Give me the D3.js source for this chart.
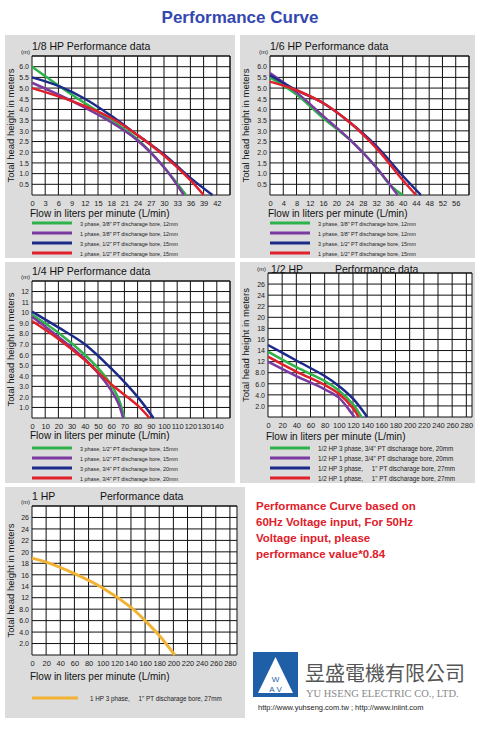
<!DOCTYPE html>
<html><head><meta charset="utf-8">
<script src="https://cdn.jsdelivr.net/npm/d3@7"></script>
<style>body{margin:0;background:#fff} text{white-space:pre}</style></head>
<body><svg id="c" width="480" height="737"></svg>
<script>
// ---- data ----
const colors = {green:"#2db34a", purple:"#7a3aa0", blue:"#1c2a8a", red:"#e0202a", orange:"#f2b233"};
const p1Legend = ["3 phase, 3/8\" PT discharage bore, 12mm","1 phase, 3/8\" PT discharage bore, 12mm","3 phase, 1/2\" PT discharage bore, 15mm","1 phase, 1/2\" PT discharage bore, 15mm"];
const p1Green  = [[0,6.0],[9,4.7],[18,3.5],[24,2.6],[30,1.3],[35,0]];
const p1Purple = [[0,5.25],[9,4.4],[18,3.4],[24,2.55],[30,1.3],[34.5,0]];
const p1Blue   = [[0,5.5],[6,5.1],[12,4.5],[18,3.7],[24,2.8],[30,1.9],[36,0.8],[41,0]];
const p1Red    = [[0,5.0],[9,4.4],[18,3.6],[24,2.8],[30,1.85],[36,0.7],[39,0]];
const p2Green  = [[0,5.5],[8,4.7],[16,3.6],[24,2.6],[32,1.3],[36,0.5],[40,0]];
const p2Purple = [[0,5.7],[8,4.8],[16,3.7],[24,2.6],[32,1.3],[38.5,0]];
const p2Blue   = [[0,5.6],[8,4.9],[16,4.3],[24,3.4],[32,2.3],[40,0.9],[45.5,0]];
const p2Red    = [[0,5.3],[8,4.9],[16,4.3],[24,3.4],[32,2.2],[40,0.7],[44,0]];
const p3Legend = ["3 phase, 1/2\" PT discharage bore, 15mm","1 phase, 1/2\" PT discharage bore, 15mm","3 phase, 3/4\" PT discharage bore, 20mm","1 phase, 3/4\" PT discharage bore, 20mm"];
const p3Green  = [[0,9.8],[20,8.1],[40,6.0],[55,4.0],[65,2.0],[70,0]];
const p3Purple = [[0,9.6],[20,7.7],[40,5.6],[55,3.5],[65,1.5],[69,0]];
const p3Blue   = [[0,10.1],[20,8.6],[40,7.0],[60,4.7],[80,2.0],[92,0]];
const p3Red    = [[0,9.2],[20,7.5],[40,5.5],[60,3.2],[80,1.2],[89,0]];
const p4Legend = ["1/2 HP 3 phase, 3/4\" PT discharage bore, 20mm","1/2 HP 1 phase, 3/4\" PT discharage bore, 20mm","1/2 HP 3 phase,     1\" PT discharage bore, 27mm","1/2 HP 1 phase,     1\" PT discharage bore, 27mm"];
const p4Green  = [[0,11.8],[40,9.0],[80,6.5],[100,4.8],[120,2.3],[132,0]];
const p4Purple = [[0,10.0],[40,7.4],[80,5.0],[100,3.5],[115,1.2],[122,0]];
const p4Blue   = [[0,13.0],[40,10.2],[80,7.4],[100,5.6],[120,3.3],[140,0]];
const p4Red    = [[0,10.9],[40,8.2],[80,5.8],[100,4.2],[120,1.6],[128,0]];
const p5Legend = ["1 HP 3 phase,     1\" PT discharage bore, 27mm"];
const p5Orange = [[0,16.9],[20,16.2],[60,14.2],[100,11.7],[140,8.3],[160,6.0],[180,3.4],[202,0]];
const ticks1 = [3,6,9,12,15,18,21,24,27,30,33,36,39,42];
const ticks2 = [4,8,12,16,20,24,28,32,36,40,44,48,52,56];
const ticks3 = [10,20,30,40,50,60,70,80,90,100,110,120,130,140];
const ticks4 = [20,40,60,80,100,120,140,160,180,200,220,240,260,280];
const yTicks12 = [0.5,1,1.5,2,2.5,3,3.5,4,4.5,5,5.5,6];
const yLabels12 = ["0.5","1.0","1.5","2.0","2.5","3.0","3.5","4.0","4.5","5.0","5.5","6.0"];
const yTicks3 = [1,2,3,4,5,6,7,8,9,10,11,12];
const yLabels3 = ["1.0","2.0","3.0","4.0","5.0","6.0","7.0","8.0","9.0","10","11","12"];
const yTicks45 = [2,4,6,8,10,12,14,16,18,20,22,24];
const yLabels45 = ["2.0","4.0","6.0","8.0","12","14","16","18","20","22","24","26"];

const svg = d3.select("#c");
const F = "Liberation Sans, Arial, sans-serif";
svg.append("text").attr("x",240).attr("y",23).attr("text-anchor","middle").attr("font-family",F)
  .attr("font-weight","bold").attr("font-size",17).attr("fill","#3347b0").text("Performance Curve");

function panel(o){
  const g = svg.append("g");
  g.append("rect").attr("x",o.box[0]).attr("y",o.box[1]).attr("width",o.box[2]).attr("height",o.box[3]).attr("fill","#dcdcdc");
  const x = d3.scaleLinear().domain([0,o.xmax]).range([o.x0,o.x1]);
  const y = d3.scaleLinear().domain([0,o.ymax]).range([o.y0,o.y1]);
  g.append("rect").attr("x",o.x0).attr("y",o.y1).attr("width",o.x1-o.x0).attr("height",o.y0-o.y1).attr("fill","#fff");
  const grid = g.append("g").attr("stroke","#111").attr("stroke-width",1);
  d3.range(0,o.xmax+1e-6,o.xstep).concat([o.xmax]).forEach(v=>grid.append("line").attr("x1",x(v)).attr("x2",x(v)).attr("y1",o.y0).attr("y2",o.y1));
  d3.range(0,o.ymax+1e-6,o.ystep).concat([o.ymax]).forEach(v=>grid.append("line").attr("y1",y(v)).attr("y2",y(v)).attr("x1",o.x0).attr("x2",o.x1));
  const xa = g.append("g").attr("transform",`translate(0,${o.y0})`)
    .call(d3.axisBottom(x).tickValues([0].concat(o.xt)).tickSize(0).tickPadding(6).tickFormat(d3.format("d")));
  xa.select(".domain").remove();
  xa.selectAll("text").attr("font-family",F).attr("font-size",7.5).attr("fill","#222");
  const ya = g.append("g").attr("transform",`translate(${o.x0},0)`)
    .call(d3.axisLeft(y).tickValues(o.yt).tickSize(0).tickPadding(3).tickFormat((d,i)=>o.yl[i]));
  ya.select(".domain").remove();
  ya.selectAll("text").attr("font-family",F).attr("font-size",7).attr("fill","#222");
  g.append("text").attr("x",o.x0-11).attr("y",o.y1-2).attr("font-family",F).attr("font-size",6).attr("fill","#222").text("(m)");
  g.append("text").attr("transform",`translate(${o.box[0]+9},${(o.y0+o.y1)/2}) rotate(-90)`).attr("text-anchor","middle")
    .attr("font-family",F).attr("font-size",9.5).attr("fill","#111").text("Total head height in meters");
  o.titles.forEach(t=>g.append("text").attr("x",t[0]).attr("y",t[1]).attr("font-family",F).attr("font-size",10.5).attr("fill","#111").text(t[2]));
  g.append("text").attr("x",o.x0-2).attr("y",o.flowY).attr("font-family",F).attr("font-size",10).attr("fill","#111").text("Flow in liters per minute (L/min)");
  const line = d3.line().x(d=>x(d[0])).y(d=>y(d[1])).curve(d3.curveCatmullRom);
  o.series.forEach(s=>g.append("path").attr("d",line(s[0])).attr("fill","none").attr("stroke",s[1]).attr("stroke-width",o.sw||2.5));
  o.legend.forEach((t,i)=>{
    const ly = o.legY + i*10;
    g.append("line").attr("x1",o.lx0).attr("x2",o.lx1).attr("y1",ly).attr("y2",ly).attr("stroke",o.series[i][1]).attr("stroke-width",o.sw||3);
    g.append("text").attr("x",o.lt).attr("y",ly+2.5).attr("font-family",F).attr("font-size",o.lf).attr("fill","#222").text(t);
  });
}
const S4 = (g,p,b,r)=>[[g,colors.green],[p,colors.purple],[b,colors.blue],[r,colors.red]];
panel({box:[5,35,230,223],x0:32,x1:230,xmax:45,xstep:3,xt:ticks1,y0:195,y1:56,ymax:6.5,ystep:0.5,yt:yTicks12,yl:yLabels12,
  titles:[[32,50,"1/8 HP Performance data"]],flowY:217,legY:223,lx0:32,lx1:72,lt:80,lf:5.4,series:S4(p1Green,p1Purple,p1Blue,p1Red),legend:p1Legend});
panel({box:[240,35,235,223],x0:270,x1:469,xmax:60,xstep:4,xt:ticks2,y0:195,y1:56,ymax:6.5,ystep:0.5,yt:yTicks12,yl:yLabels12,
  titles:[[270,50,"1/6 HP Performance data"]],flowY:217,legY:223,lx0:270,lx1:310,lt:318,lf:5.4,series:S4(p2Green,p2Purple,p2Blue,p2Red),legend:p1Legend});
panel({box:[5,262,230,221],x0:32,x1:230,xmax:150,xstep:10,xt:ticks3,y0:418,y1:281,ymax:13,ystep:1,yt:yTicks3,yl:yLabels3,
  titles:[[32,275,"1/4 HP Performance data"]],flowY:439,legY:448,lx0:32,lx1:72,lt:80,lf:5.4,series:S4(p3Green,p3Purple,p3Blue,p3Red),legend:p3Legend});
panel({box:[240,262,235,221],x0:268,x1:472,xmax:288,xstep:20,xt:ticks4,y0:417,y1:273,ymax:26,ystep:2,yt:yTicks45,yl:yLabels45,
  titles:[[271,273,"1/2 HP"],[335,273,"Performance data"]],flowY:440,legY:448,lx0:270,lx1:310,lt:318,lf:6.3,series:S4(p4Green,p4Purple,p4Blue,p4Red),legend:p4Legend});
panel({box:[5,487,240,231],x0:32,x1:237,xmax:290,xstep:20,xt:ticks4,y0:655,y1:506,ymax:26,ystep:2,yt:yTicks45,yl:yLabels45,
  titles:[[32,500,"1 HP"],[100,500,"Performance data"]],flowY:680,legY:698,lx0:32,lx1:78,lt:90,lf:6.3,sw:3,series:[[p5Orange,colors.orange]],legend:p5Legend});

// notes
["Performance Curve based on","60Hz Voltage input, For 50Hz","Voltage input, please","performance value*0.84"].forEach((t,i)=>
  svg.append("text").attr("x",256).attr("y",510+i*16).attr("font-family",F).attr("font-weight","bold").attr("font-size",11.5).attr("fill","#e0202a").text(t));
// logo
svg.append("rect").attr("x",253).attr("y",652).attr("width",45).attr("height",45).attr("fill","#1f5fa8");
svg.append("path").attr("d","M258,693 L275.5,657 L293,693 Z").attr("fill","#fff");
svg.append("text").attr("x",275.5).attr("y",682).attr("text-anchor","middle").attr("font-family",F).attr("font-size",8).attr("fill","#1f5fa8").text("W");
svg.append("text").attr("x",275.5).attr("y",692).attr("text-anchor","middle").attr("font-family",F).attr("font-size",8).attr("fill","#1f5fa8").text("A V");
svg.append("text").attr("x",305).attr("y",681).attr("font-family","Noto Sans CJK TC").attr("font-size",20).attr("fill","#555").text("昱盛電機有限公司");
svg.append("text").attr("x",306).attr("y",697).attr("font-family","Liberation Serif, serif").attr("font-size",10.5).attr("fill","#888").text("YU HSENG ELECTRIC CO., LTD.");
svg.append("text").attr("x",258).attr("y",710).attr("font-family",F).attr("font-size",7.5).attr("fill","#222").text("http://www.yuhseng.com.tw ; http://www.iniint.com");
</script></body></html>
